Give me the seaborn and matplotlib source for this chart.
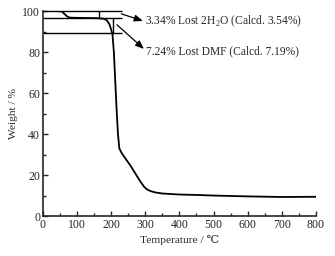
import matplotlib.pyplot as plt
import seaborn as sns
import pandas as pd
from matplotlib.ticker import MultipleLocator

# TGA curve
temp = [0, 40, 55, 62, 70, 78, 90, 120, 160, 180, 188, 195, 200, 204, 208, 212, 216, 220, 224,
        230, 240, 255, 270, 285, 297, 305, 315, 330, 350, 400, 450, 500, 600, 700, 800]
weight = [100, 100, 99.8, 98.8, 97.5, 96.8, 96.7, 96.6, 96.5, 96.2, 95.3, 93.5, 91.0, 88.5, 80,
          66, 52, 40, 33, 31, 28.5, 25, 21, 17, 14.2, 13, 12.2, 11.5, 11, 10.5, 10.3, 10, 9.6, 9.3, 9.4]

step_levels = [100, 96.66, 89.42]
step_end = 231
step_marks = [(165, 100, 96.66), (206, 96.66, 89.42)]
labels = ['3.34% Lost 2H$_\\mathregular{2}$O (Calcd. 3.54%)', '7.24% Lost DMF (Calcd. 7.19%)']

df = pd.DataFrame({'Temperature': temp, 'Weight': weight})

sns.set_style('ticks')
plt.rcParams['font.family'] = ['Liberation Serif', 'DejaVu Serif']
plt.rcParams['mathtext.fontset'] = 'custom'
plt.rcParams['mathtext.rm'] = 'Liberation Serif'

fig = plt.figure(figsize=(3.35, 2.56), dpi=100)
ax = fig.add_axes([0.128, 0.156, 0.815, 0.801])
sns.lineplot(data=df, x='Temperature', y='Weight', ax=ax, color='black', lw=1.3)

for lvl in step_levels:
    ax.plot([0, step_end], [lvl, lvl], color='black', lw=1.0, clip_on=False,
            solid_capstyle='butt')
for x, y0, y1 in step_marks:
    ax.plot([x, x], [y0, y1], color='black', lw=1.0)

arrow = dict(arrowstyle='-|>,head_length=0.5,head_width=0.2', color='black', lw=0.9,
             shrinkA=0, shrinkB=0)
ax.annotate('', xy=(293, 95.2), xytext=(230, 98.6), arrowprops=arrow, annotation_clip=False)
ax.annotate('', xy=(296, 81.5), xytext=(217, 93.3), arrowprops=arrow, annotation_clip=False)
ax.text(299, 95.1, labels[0], fontsize=8.3, va='center')
ax.text(301, 80.2, labels[1], fontsize=8.3, va='center')

ax.set_xlim(0, 800)
ax.set_ylim(0, 100)
ax.xaxis.set_major_locator(MultipleLocator(100))
ax.xaxis.set_minor_locator(MultipleLocator(50))
ax.yaxis.set_major_locator(MultipleLocator(20))
ax.yaxis.set_minor_locator(MultipleLocator(10))
ax.tick_params(which='both', direction='in', labelsize=8.5, pad=2)
ax.tick_params(which='major', length=3.5, width=1)
ax.tick_params(which='minor', length=2, width=1)
sns.despine(ax=ax)
for s in ['left', 'bottom']:
    ax.spines[s].set_linewidth(1.2)
ax.set_xlabel('Temperature / ℃', fontsize=8.2, labelpad=3)
ax.set_ylabel('Weight / %', fontsize=8.2, labelpad=3)

plt.savefig('out.png', dpi=100)
